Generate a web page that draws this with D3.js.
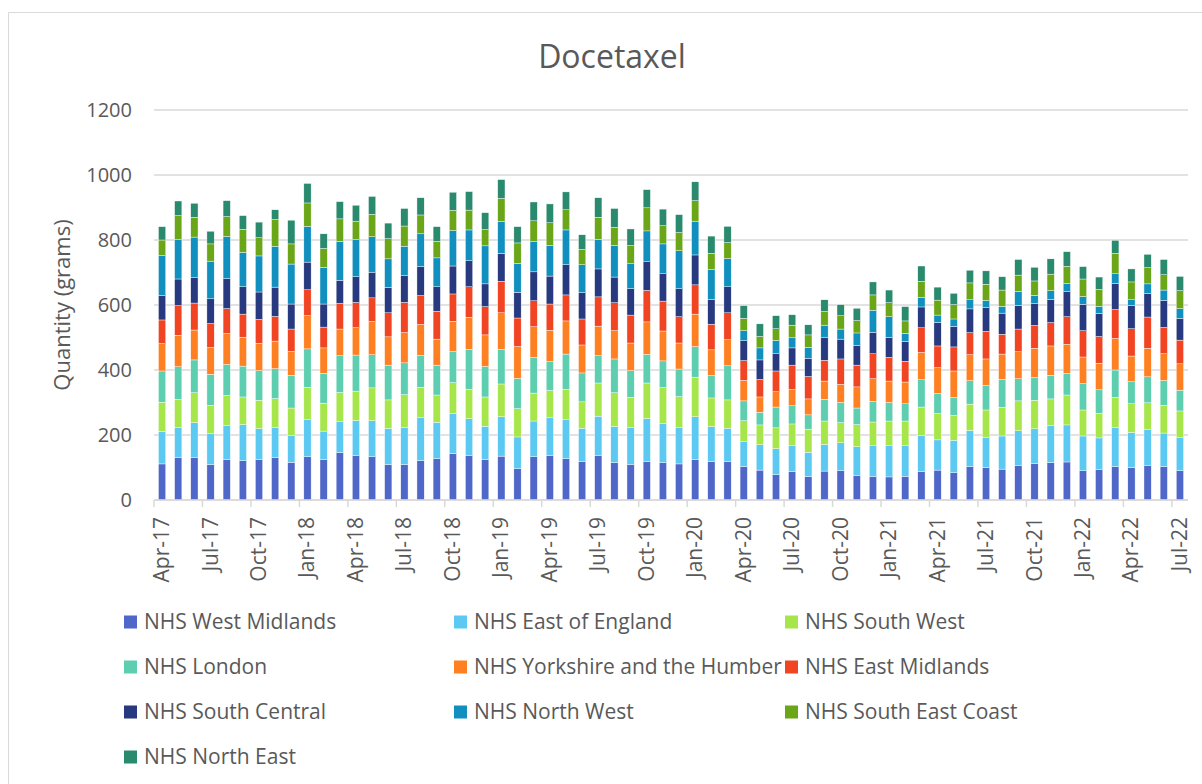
<!DOCTYPE html>
<html>
<head>
<meta charset="utf-8">
<script src="https://cdn.jsdelivr.net/npm/d3@7"></script>
<style>
  body { margin: 0; background: #fff; }
  text { font-family: "Open Sans", sans-serif; fill: #595959; }
</style>
</head>
<body>
<div id="chart"></div>
<script>
// Months (categories)
const months = ["Apr-17","May-17","Jun-17","Jul-17","Aug-17","Sep-17","Oct-17","Nov-17","Dec-17",
  "Jan-18","Feb-18","Mar-18","Apr-18","May-18","Jun-18","Jul-18","Aug-18","Sep-18","Oct-18","Nov-18","Dec-18",
  "Jan-19","Feb-19","Mar-19","Apr-19","May-19","Jun-19","Jul-19","Aug-19","Sep-19","Oct-19","Nov-19","Dec-19",
  "Jan-20","Feb-20","Mar-20","Apr-20","May-20","Jun-20","Jul-20","Aug-20","Sep-20","Oct-20","Nov-20","Dec-20",
  "Jan-21","Feb-21","Mar-21","Apr-21","May-21","Jun-21","Jul-21","Aug-21","Sep-21","Oct-21","Nov-21","Dec-21",
  "Jan-22","Feb-22","Mar-22","Apr-22","May-22","Jun-22","Jul-22"];

// Series values (grams)
const westMidlands = [111,130,130,109,124,121,124,130,116,133,124,146,136,133,109,109,121,127,143,136,125,135,96,133,137,127,118,136,115,110,118,115,111,125,118,118,103,92,78,87,72,89,90,76,72,71,73,87,92,84,103,100,95,107,112,115,117,90,93,103,100,107,103,90];
const eastOfEngland = [100,93,108,95,105,111,96,93,82,114,88,95,109,111,111,115,132,112,124,114,102,121,98,110,116,120,103,122,111,113,133,120,113,131,108,103,77,78,80,80,75,82,86,88,95,96,94,111,93,100,111,93,102,106,107,114,114,107,98,120,108,111,103,102];
const southWest = [90,87,92,87,93,85,87,89,85,100,86,90,90,101,88,100,94,84,94,91,90,101,87,86,84,94,81,102,104,93,109,111,94,122,88,87,64,61,64,67,71,72,62,68,73,76,76,88,81,76,81,84,88,92,88,82,92,80,76,93,88,81,85,82];
const london = [96,100,101,96,95,95,91,92,101,118,92,113,111,102,107,98,98,92,96,123,94,107,93,110,89,108,89,84,104,82,88,82,85,94,69,105,61,39,64,56,44,67,62,51,64,57,53,84,62,56,72,75,86,68,70,73,67,81,72,84,68,80,77,64];
const yorkshire = [84,97,92,82,95,89,84,85,73,102,78,82,84,102,87,93,95,80,93,98,97,112,98,94,96,102,86,91,87,85,100,92,80,100,79,80,63,47,47,50,49,56,56,65,69,66,67,84,79,81,80,82,78,83,90,90,89,82,82,97,79,88,82,81];
const eastMidlands = [73,91,83,74,77,71,74,76,69,80,64,79,78,73,74,93,89,86,84,94,87,97,88,80,81,80,80,90,86,86,97,92,81,90,79,83,61,54,64,75,69,64,78,67,77,73,64,76,67,74,68,85,61,70,70,72,85,81,82,89,84,96,81,73];
const southCentral = [75,82,78,76,92,84,84,90,77,85,71,71,79,79,78,82,89,75,86,80,70,86,79,89,86,93,81,86,79,81,88,84,86,92,76,80,61,60,53,53,56,71,61,61,66,61,61,64,72,63,73,73,65,73,67,71,77,81,71,80,72,72,83,67];
const northWest = [123,121,125,116,130,106,111,126,123,110,113,120,114,109,88,91,101,89,109,95,117,98,89,93,95,107,86,91,97,77,95,92,117,104,92,87,31,37,41,31,34,37,31,38,68,64,25,29,23,23,28,22,21,43,26,27,25,24,22,30,17,30,32,30];
const southEastCoast = [48,74,61,53,61,71,56,82,62,72,58,69,57,69,62,62,58,51,62,61,50,71,63,64,69,62,47,68,56,56,71,56,56,63,50,49,38,35,36,39,38,42,41,38,47,43,38,50,46,44,52,50,50,50,44,51,53,54,52,63,55,50,47,55];
const northEast = [41,45,43,39,49,42,48,30,73,60,45,53,49,55,48,54,53,45,56,57,52,58,50,58,58,55,45,60,58,51,56,51,55,58,53,50,39,39,40,32,31,36,34,38,40,39,44,47,40,35,39,41,41,48,42,47,45,38,38,40,40,41,47,44];

const seriesNames = ["NHS West Midlands","NHS East of England","NHS South West","NHS London",
  "NHS Yorkshire and the Humber","NHS East Midlands","NHS South Central","NHS North West",
  "NHS South East Coast","NHS North East"];
const seriesValues = [westMidlands, eastOfEngland, southWest, london, yorkshire,
  eastMidlands, southCentral, northWest, southEastCoast, northEast];
const colors = ["#4f67c8","#5bc9f1","#a6e64a","#5dcfb0","#ff8022",
  "#f04423","#27397f","#1190bf","#6aa617","#2a8a6e"];

const yTicks = [0,200,400,600,800,1000,1200];

const W = 1202, H = 784;
const plot = { left: 154, right: 1188, top: 110, bottom: 500 };

// table the stack layout needs
const table = months.map((m, i) => {
  const row = { month: m };
  seriesNames.forEach((s, k) => row[s] = seriesValues[k][i]);
  return row;
});

const svg = d3.select("#chart").append("svg")
    .attr("width", W)
    .attr("height", H);

svg.append("rect").attr("width", W).attr("height", H).attr("fill", "#fff");

// outer chart border
svg.append("path")
    .attr("d", `M8.5,${H} V12.5 H${W}`)
    .attr("fill", "none")
    .attr("stroke", "#d9d9d9")
    .attr("stroke-width", 1);

// title
svg.append("text")
    .attr("x", 612)
    .attr("y", 68)
    .attr("text-anchor", "middle")
    .style("font-size", "32px")
    .text("Docetaxel");

const x = d3.scaleBand()
    .domain(months)
    .range([plot.left, plot.right])
    .paddingInner(0.55)
    .paddingOuter(0.275);

const y = d3.scaleLinear()
    .domain([0, 1200])
    .range([plot.bottom, plot.top]);

// gridlines
svg.append("g")
  .selectAll("line")
  .data(yTicks)
  .enter().append("line")
    .attr("x1", plot.left)
    .attr("x2", plot.right)
    .attr("y1", d => y(d))
    .attr("y2", d => y(d))
    .attr("stroke", "#d9d9d9")
    .attr("stroke-width", 1.5);

// y axis labels
const yAxis = d3.axisLeft(y).tickValues(yTicks).tickFormat(d3.format("d")).tickSize(0).tickPadding(22);
const gy = svg.append("g")
    .attr("transform", `translate(${plot.left},0)`)
    .call(yAxis);
gy.select(".domain").remove();
gy.selectAll("text")
    .style("font-size", "20px")
    .style("font-family", "'Open Sans', sans-serif")
    .attr("fill", "#595959");

// y axis title
svg.append("text")
    .attr("transform", "rotate(-90)")
    .attr("x", -305)
    .attr("y", 70)
    .attr("text-anchor", "middle")
    .style("font-size", "22px")
    .text("Quantity (grams)");

// stacked bars
const stack = d3.stack().keys(seriesNames);
const layers = stack(table);

svg.append("g")
  .selectAll("g")
  .data(layers)
  .enter().append("g")
    .attr("fill", (d, i) => colors[i])
  .selectAll("rect")
  .data(d => d)
  .enter().append("rect")
    .attr("x", d => x(d.data.month))
    .attr("width", x.bandwidth())
    .attr("y", d => y(d[1]))
    .attr("height", d => y(d[0]) - y(d[1]))
    .attr("stroke", "#ffffff")
    .attr("stroke-width", 0.4);

// x axis line and ticks
const tickMonths = months.filter((m, i) => i % 3 === 0);
const xAxisG = svg.append("g");
xAxisG.append("line")
    .attr("x1", plot.left)
    .attr("x2", plot.right)
    .attr("y1", plot.bottom)
    .attr("y2", plot.bottom)
    .attr("stroke", "#d9d9d9")
    .attr("stroke-width", 1.5);
xAxisG.selectAll(".tick-mark")
  .data(tickMonths)
  .enter().append("line")
    .attr("class", "tick-mark")
    .attr("x1", d => x(d) - x.step() * x.paddingInner() / 2)
    .attr("x2", d => x(d) - x.step() * x.paddingInner() / 2)
    .attr("y1", plot.bottom)
    .attr("y2", plot.bottom + 7)
    .attr("stroke", "#d9d9d9")
    .attr("stroke-width", 1.5);
xAxisG.selectAll(".tick-label")
  .data(tickMonths)
  .enter().append("text")
    .attr("class", "tick-label")
    .attr("transform", d => `translate(${x(d) + x.bandwidth() / 2 + 7},${plot.bottom + 17}) rotate(-90)`)
    .attr("text-anchor", "end")
    .style("font-size", "21px")
    .text(d => d);

// legend
const legendCols = [124, 454, 785];
const legendRows = [622, 667, 712, 757];
const legend = svg.selectAll(".legend")
    .data(seriesNames)
  .enter().append("g")
    .attr("class", "legend")
    .attr("transform", (d, i) => `translate(${legendCols[i % 3]},${legendRows[Math.floor(i / 3)]})`);

legend.append("rect")
    .attr("x", 0)
    .attr("y", -6.5)
    .attr("width", 13)
    .attr("height", 13)
    .attr("fill", (d, i) => colors[i]);

legend.append("text")
    .attr("x", 20)
    .attr("y", 0)
    .attr("dy", "0.35em")
    .style("font-size", "21px")
    .text(d => d);
</script>
</body>
</html>
